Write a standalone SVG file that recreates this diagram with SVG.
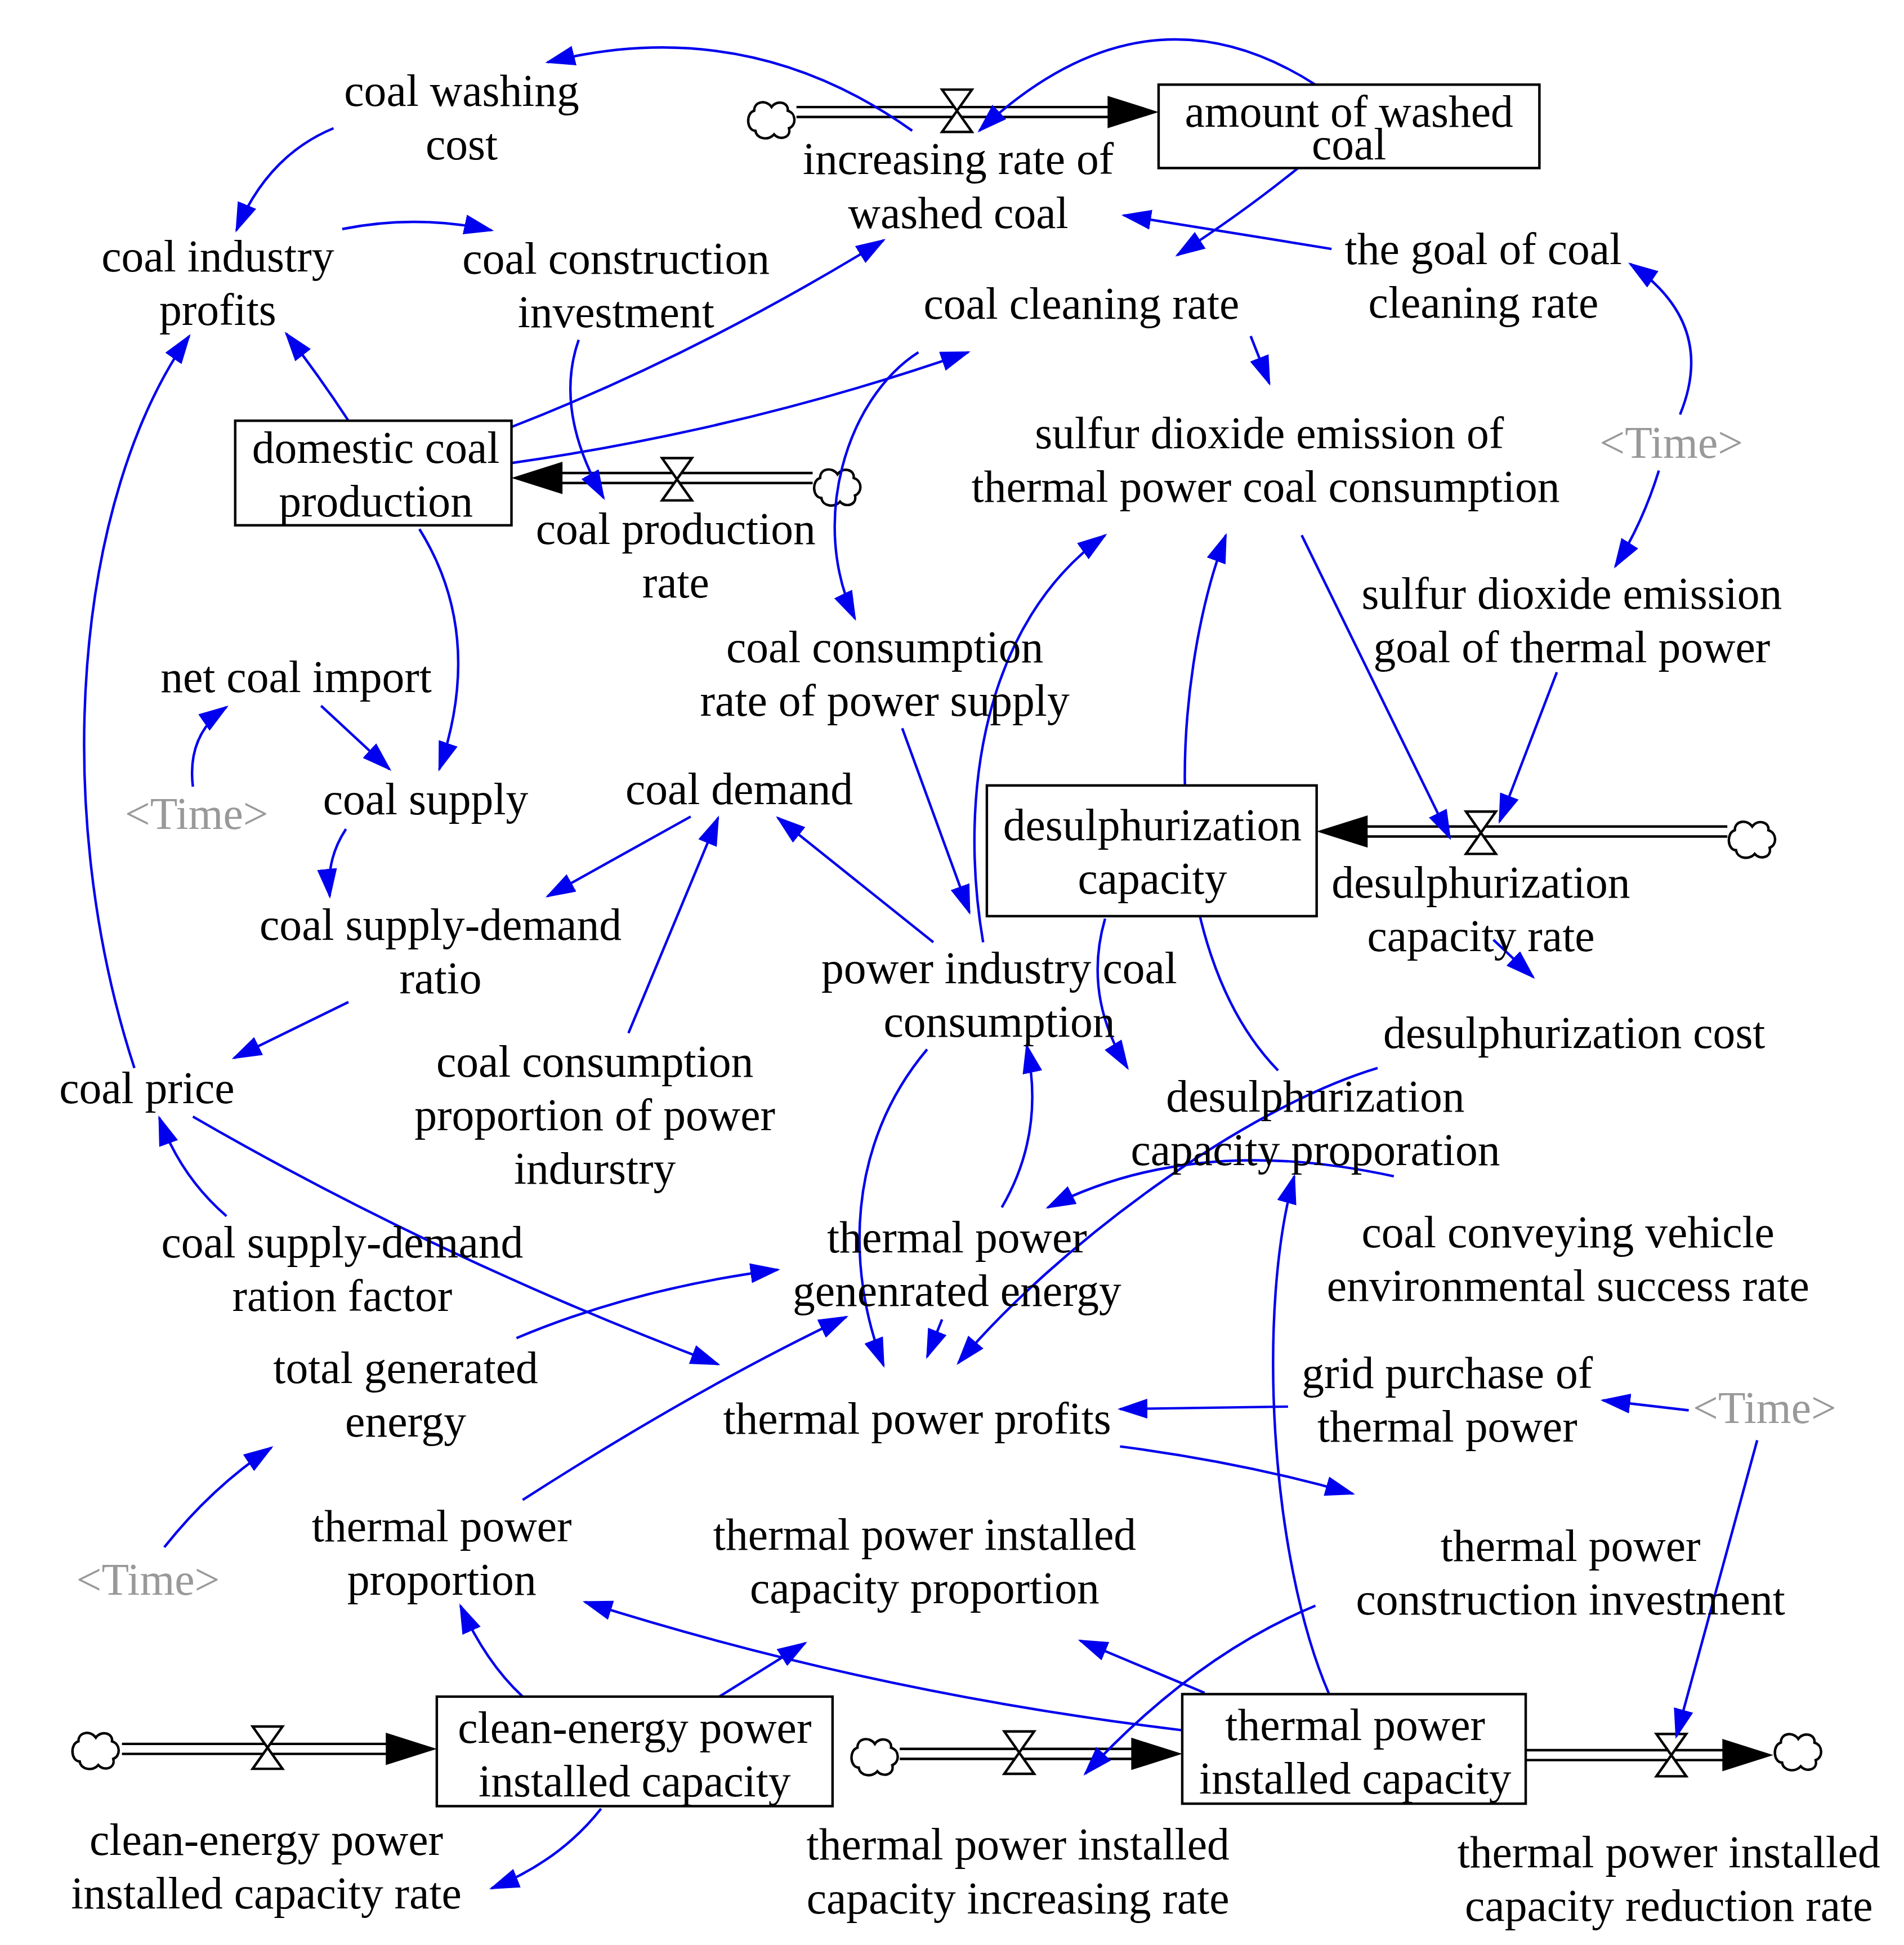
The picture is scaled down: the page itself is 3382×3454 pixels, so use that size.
<svg xmlns="http://www.w3.org/2000/svg" width="3382" height="3454" viewBox="0 0 3382 3454">
<defs>
<style>
text{font-family:"Liberation Serif","Times New Roman",serif;font-size:36px;fill:#000;text-anchor:middle}
text.g{fill:#999}
.c{fill:none;stroke:#0000ee;stroke-width:2;marker-end:url(#a)}
.p{fill:none;stroke:#000;stroke-width:2}
.v{fill:#fff;stroke:#000;stroke-width:2}
.b{fill:#fff;stroke:#000;stroke-width:2}
.cl{fill:#fff;stroke:#000;stroke-width:2}
</style>
<marker id="a" viewBox="0 0 24 16" refX="22" refY="8" markerWidth="24" markerHeight="16" markerUnits="userSpaceOnUse" orient="auto"><path d="M0,0 L24,8 L0,16 Z" fill="#0000ee"/></marker>
<symbol id="cloud" viewBox="-22 -18 44 36" overflow="visible"><path d="M-14,-8 C-14,-16 -4,-17 0,-11 C4,-17 14,-15 13,-8 C20,-6 20,4 14,6 C16,14 6,16 2,11 C-2,16 -12,15 -13,8 C-20,8 -21,-6 -14,-8 Z" class="cl"/></symbol>
</defs>
<rect width="3382" height="3454" fill="#fff"/>
<g transform="scale(2.2105)">
<g id="flows">
<use href="#cloud" x="598" y="79" width="44" height="36"/>
<path class="p" d="M640,86 H895 M640,94 H895"/><path d="M890,77 L931,90 L890,103 Z"/>
<path class="v" d="M757,72 H781 L757,106 H781 Z"/>
<use href="#cloud" x="651" y="374" width="44" height="36"/>
<path class="p" d="M653,380 H450 M653,388 H450"/><path d="M452,371 L411,384 L452,397 Z"/>
<path class="v" d="M532,368 H556 L532,402 H556 Z"/>
<use href="#cloud" x="1386" y="657" width="44" height="36"/>
<path class="p" d="M1388,664 H1097 M1388,672 H1097"/><path d="M1099,655 L1058,668 L1099,681 Z"/>
<path class="v" d="M1178,652 H1202 L1178,686 H1202 Z"/>
<use href="#cloud" x="55" y="1389" width="44" height="36"/>
<path class="p" d="M98,1401 H312 M98,1409 H312"/><path d="M310,1392 L351,1405 L310,1418 Z"/>
<path class="v" d="M203,1387 H227 L203,1421 H227 Z"/>
<use href="#cloud" x="681" y="1394" width="44" height="36"/>
<path class="p" d="M723,1405 H911 M723,1413 H911"/><path d="M909,1396 L950,1409 L909,1422 Z"/>
<path class="v" d="M807,1391 H831 L807,1425 H831 Z"/>
<use href="#cloud" x="1423" y="1390" width="44" height="36"/>
<path class="p" d="M1226,1406 H1386 M1226,1414 H1386"/><path d="M1384,1397 L1425,1410 L1384,1423 Z"/>
<path class="v" d="M1331,1393 H1355 L1331,1427 H1355 Z"/>
</g>
<g id="connectors">
<path class="c" d="M733,105 Q600,10 440,50"/>
<path class="c" d="M1057,68 Q920,-20 787,105"/>
<path class="c" d="M1043,135 Q1000,170 946,205"/>
<path class="c" d="M1070,200 L903,173"/>
<path class="c" d="M268,103 Q215,125 190,185"/>
<path class="c" d="M275,184 Q335,172 395,185"/>
<path class="c" d="M465,273 Q445,330 485,400"/>
<path class="c" d="M280,338 Q255,300 230,268"/>
<path class="c" d="M411,343 Q560,285 710,193"/>
<path class="c" d="M411,372 Q600,345 778,283"/>
<path class="c" d="M738,283 C680,320 650,420 687,497"/>
<path class="c" d="M1005,270 L1020,308"/>
<path class="c" d="M1350,333 Q1380,260 1310,212"/>
<path class="c" d="M1333,378 Q1320,420 1298,455"/>
<path class="c" d="M1046,430 L1165,673"/>
<path class="c" d="M1251,540 L1205,660"/>
<path class="c" d="M790,757 C770,640 790,500 888,430"/>
<path class="c" d="M1027,860 C930,760 940,550 985,430"/>
<path class="c" d="M258,567 L313,618"/>
<path class="c" d="M155,632 Q150,590 182,568"/>
<path class="c" d="M337,425 Q390,510 353,618"/>
<path class="c" d="M278,666 Q262,690 265,720"/>
<path class="c" d="M555,656 L440,720"/>
<path class="c" d="M725,585 L779,733"/>
<path class="c" d="M750,757 L625,657"/>
<path class="c" d="M505,830 L577,657"/>
<path class="c" d="M280,805 L188,850"/>
<path class="c" d="M108,858 C40,650 60,400 152,270"/>
<path class="c" d="M182,977 Q145,945 128,898"/>
<path class="c" d="M155,897 Q350,1010 577,1096"/>
<path class="c" d="M888,738 Q870,800 906,858"/>
<path class="c" d="M1200,755 L1232,785"/>
<path class="c" d="M1107,858 C1000,890 850,1000 770,1095"/>
<path class="c" d="M1120,945 Q960,910 842,970"/>
<path class="c" d="M805,970 Q840,910 825,840"/>
<path class="c" d="M745,843 C680,920 680,1020 710,1097"/>
<path class="c" d="M757,1060 L745,1090"/>
<path class="c" d="M415,1075 Q510,1035 625,1020"/>
<path class="c" d="M420,1205 Q560,1115 680,1058"/>
<path class="c" d="M132,1243 Q170,1195 218,1163"/>
<path class="c" d="M1035,1130 L900,1132"/>
<path class="c" d="M1357,1133 L1288,1125"/>
<path class="c" d="M900,1162 Q1000,1175 1087,1200"/>
<path class="c" d="M1412,1157 L1347,1395"/>
<path class="c" d="M1057,1290 Q960,1330 872,1425"/>
<path class="c" d="M1068,1361 C1020,1250 1010,1050 1040,945"/>
<path class="c" d="M968,1360 L868,1318"/>
<path class="c" d="M950,1390 Q700,1360 470,1287"/>
<path class="c" d="M420,1363 Q390,1335 370,1290"/>
<path class="c" d="M578,1363 L647,1320"/>
<path class="c" d="M483,1453 Q450,1495 395,1517"/>
</g>
<g id="n-washed"><rect class="b" x="931" y="68" width="306" height="67"/><text x="1084" y="102">amount of washed</text><text x="1084" y="128">coal</text></g>
<g id="n-domestic"><rect class="b" x="189" y="338" width="222" height="84"/><text x="302" y="372">domestic coal</text><text x="302" y="415">production</text></g>
<g id="n-desulcap"><rect class="b" x="793" y="631" width="265" height="105"/><text x="926" y="675">desulphurization</text><text x="926" y="718">capacity</text></g>
<g id="n-clean"><rect class="b" x="351" y="1363" width="318" height="88"/><text x="510" y="1400">clean-energy power</text><text x="510" y="1443">installed capacity</text></g>
<g id="n-thermcap"><rect class="b" x="950" y="1361" width="276" height="88"/><text x="1089" y="1398">thermal power</text><text x="1089" y="1441">installed capacity</text></g>
<g id="labels">
<text x="371" y="85">coal washing</text><text x="371" y="128">cost</text>
<text x="770" y="140">increasing rate of</text><text x="770" y="183">washed coal</text>
<text x="175" y="218">coal industry</text><text x="175" y="261">profits</text>
<text x="495" y="220">coal construction</text><text x="495" y="263">investment</text>
<text x="869" y="256">coal cleaning rate</text>
<text x="1192" y="212">the goal of coal</text><text x="1192" y="255">cleaning rate</text>
<text x="543" y="437">coal production</text><text x="543" y="480">rate</text>
<text x="1020" y="360">sulfur dioxide emission of</text><text x="1017" y="403">thermal power coal consumption</text>
<text class="g" x="1343" y="368">&lt;Time&gt;</text>
<text x="1263" y="489">sulfur dioxide emission</text><text x="1263" y="532">goal of thermal power</text>
<text x="711" y="532">coal consumption</text><text x="711" y="575">rate of power supply</text>
<text x="238" y="556">net coal import</text>
<text class="g" x="158" y="666">&lt;Time&gt;</text>
<text x="342" y="654">coal supply</text>
<text x="594" y="646">coal demand</text>
<text x="1190" y="721">desulphurization</text><text x="1190" y="764">capacity rate</text>
<text x="354" y="755">coal supply-demand</text><text x="354" y="798">ratio</text>
<text x="803" y="790">power industry coal</text><text x="803" y="833">consumption</text>
<text x="1265" y="842">desulphurization cost</text>
<text x="118" y="886">coal price</text>
<text x="478" y="865">coal consumption</text><text x="478" y="908">proportion of power</text><text x="478" y="951">indurstry</text>
<text x="1057" y="893">desulphurization</text><text x="1057" y="936">capacity proporation</text>
<text x="275" y="1010">coal supply-demand</text><text x="275" y="1053">ration factor</text>
<text x="769" y="1006">thermal power</text><text x="769" y="1049">genenrated energy</text>
<text x="1260" y="1002">coal conveying vehicle</text><text x="1260" y="1045">environmental success rate</text>
<text x="326" y="1111">total generated</text><text x="326" y="1154">energy</text>
<text x="1163" y="1115">grid purchase of</text><text x="1163" y="1158">thermal power</text>
<text class="g" x="1418" y="1143">&lt;Time&gt;</text>
<text x="737" y="1152">thermal power profits</text>
<text x="355" y="1238">thermal power</text><text x="355" y="1281">proportion</text>
<text x="743" y="1245">thermal power installed</text><text x="743" y="1288">capacity proportion</text>
<text x="1262" y="1254">thermal power</text><text x="1262" y="1297">construction investment</text>
<text class="g" x="119" y="1281">&lt;Time&gt;</text>
<text x="214" y="1490">clean-energy power</text><text x="214" y="1533">installed capacity rate</text>
<text x="818" y="1494">thermal power installed</text><text x="818" y="1537">capacity increasing rate</text>
<text x="1341" y="1500">thermal power installed</text><text x="1341" y="1543">capacity reduction rate</text>
</g>
</g>
</svg>
